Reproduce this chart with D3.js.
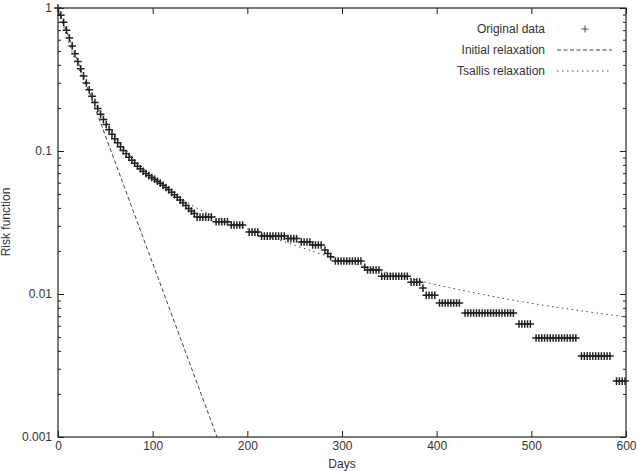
<!DOCTYPE html>
<html>
<head>
<meta charset="utf-8">
<script src="https://cdn.jsdelivr.net/npm/d3@7"></script>
<style>
  body { margin: 0; background: #fff; }
  svg { display: block; font-family: "Liberation Sans", Arial, Helvetica, sans-serif; }
  .axis text { font-size: 12px; fill: #333; }
  .axis .domain { display: none; }
  .axis line { stroke: #222; }
</style>
</head>
<body>
<svg id="chart" width="637" height="471"></svg>
<script>
// smooth early part of the observed risk function (one marker every 3 days)
const curveDays = [0, 3, 6, 9, 12, 15, 18, 21, 24, 27, 30, 33, 36, 39, 42, 45, 48, 51, 54, 57,
  60, 63, 66, 69, 72, 75, 78, 81, 84, 87, 90, 93, 96, 99, 102, 105, 108, 111, 114, 117,
  120, 123, 126, 129, 132, 135, 138, 141, 144];
const curveRisk = [1, 0.891, 0.794, 0.700, 0.617, 0.543, 0.479, 0.422, 0.376, 0.335, 0.299,
  0.268, 0.241, 0.218, 0.198, 0.181, 0.166, 0.153, 0.141, 0.131, 0.122, 0.114, 0.107, 0.101,
  0.0955, 0.0906, 0.0861, 0.0820, 0.0783, 0.0750, 0.0721, 0.0695, 0.0673, 0.0653, 0.0634,
  0.0615, 0.0596, 0.0575, 0.0555, 0.0535, 0.0514, 0.0494, 0.0475, 0.0455, 0.0435, 0.0415,
  0.0396, 0.0380, 0.0366];

// later part: plateaus (value, days with a marker)
const stepRisk = [0.0345, 0.0320, 0.0304, 0.0271, 0.0254, 0.0244, 0.0231, 0.0220,
  0.0203, 0.0192, 0.0182, 0.0170, 0.0154, 0.0147, 0.0133, 0.0121, 0.0110, 0.0098,
  0.00865, 0.00737, 0.00617, 0.00492, 0.00368, 0.00246];
const stepDays = [
  [147, 150, 153, 156, 159, 162],
  [167, 170, 173, 176, 179],
  [183, 186, 189, 192, 195],
  [202, 205, 208, 211],
  [215, 218, 221, 224, 227, 230, 233, 236, 239],
  [243, 246, 249, 252],
  [257, 260, 263, 266],
  [269, 272, 275, 278],
  [282],
  [285],
  [288],
  [293, 296, 299, 302, 305, 308, 311, 314, 317, 320],
  [324],
  [327, 330, 333, 336, 339],
  [342, 345, 348, 351, 354, 357, 360, 363, 366, 369],
  [373, 376, 379, 382],
  [385.5],
  [389, 392, 395, 398],
  [403, 406, 409, 412, 415, 418, 421, 424],
  [430, 433, 436, 439, 442, 445, 448, 451, 454, 457, 460, 463, 466, 469, 472, 475, 478, 481],
  [487, 490, 493, 496, 499],
  [505, 508, 511, 514, 517, 520, 523, 526, 529, 532, 535, 538, 541, 544, 547],
  [553, 556, 559, 562, 565, 568, 571, 574, 577, 580, 583],
  [590, 593, 596, 599]
];

// fitted curves
const initialDays = [0, 168];
const initialRisk = [1, 0.001];
const tsallisDays = [0, 10, 20, 30, 40, 50, 60, 70, 80, 90, 100, 120, 140, 170, 200, 250,
  300, 350, 400, 450, 500, 550, 600];
const tsallisRisk = [1, 0.610, 0.403, 0.285, 0.211, 0.162, 0.129, 0.105, 0.0881, 0.0759,
  0.0661, 0.0519, 0.0422, 0.0339, 0.0285, 0.0219, 0.0172, 0.0140, 0.0116, 0.00989,
  0.00861, 0.00767, 0.00692];

const xTicks = [0, 100, 200, 300, 400, 500, 600];
const yTicks = [0.001, 0.01, 0.1, 1];
const yTickLabels = ["0.001", "0.01", "0.1", "1"];
const yMinor = [2, 3, 4, 5, 6, 7, 8, 9];

const legendLabels = ["Original data", "Initial relaxation", "Tsallis relaxation"];

let points = curveDays.map((d, i) => [d, curveRisk[i]]);
stepDays.forEach((days, i) => {
  days.forEach(d => points.push([d, stepRisk[i]]));
});

const plotLeft = 58, plotRight = 626, plotTop = 8, plotBottom = 437;

let svg = d3.select("#chart");

let x = d3.scaleLinear().domain([0, 600]).range([plotLeft, plotRight]);
let y = d3.scaleLog().domain([0.001, 1]).range([plotBottom, plotTop]);

let minorVals = [];
[0.001, 0.01, 0.1].forEach(dec => yMinor.forEach(m => minorVals.push(dec * m)));

// axes, ticks pointing inward
svg.append("g").attr("class", "axis")
  .attr("transform", "translate(0," + plotBottom + ")")
  .call(d3.axisBottom(x).tickValues(xTicks).tickSize(-6).tickPadding(4).tickFormat(d3.format("d")));
svg.append("g").attr("class", "axis")
  .attr("transform", "translate(0," + plotTop + ")")
  .call(d3.axisTop(x).tickValues(xTicks).tickSize(-6).tickFormat(""));
svg.append("g").attr("class", "axis")
  .attr("transform", "translate(" + plotLeft + ",0)")
  .call(d3.axisLeft(y).tickValues(yTicks).tickSize(-6).tickPadding(6)
    .tickFormat((d, i) => yTickLabels[i]));
svg.append("g").attr("class", "axis")
  .attr("transform", "translate(" + plotLeft + ",0)")
  .call(d3.axisLeft(y).tickValues(minorVals).tickSize(-3).tickFormat(""));
svg.append("g").attr("class", "axis")
  .attr("transform", "translate(" + plotRight + ",0)")
  .call(d3.axisRight(y).tickValues(yTicks).tickSize(-6).tickFormat(""));
svg.append("g").attr("class", "axis")
  .attr("transform", "translate(" + plotRight + ",0)")
  .call(d3.axisRight(y).tickValues(minorVals).tickSize(-3).tickFormat(""));

svg.append("rect")
  .attr("x", plotLeft).attr("y", plotTop)
  .attr("width", plotRight - plotLeft).attr("height", plotBottom - plotTop)
  .attr("fill", "none").attr("stroke", "#222").attr("stroke-width", 1.2);

// axis titles
svg.append("text")
  .attr("x", (plotLeft + plotRight) / 2).attr("y", 468)
  .attr("text-anchor", "middle").attr("font-size", 12).attr("fill", "#333")
  .text("Days");
svg.append("text")
  .attr("transform", "translate(10,222) rotate(-90)")
  .attr("text-anchor", "middle").attr("font-size", 12).attr("fill", "#333")
  .text("Risk function");

let line = d3.line().x(d => x(d[0])).y(d => y(d[1]));

svg.append("path")
  .datum(initialDays.map((d, i) => [d, initialRisk[i]]))
  .attr("d", line)
  .attr("fill", "none").attr("stroke", "#444").attr("stroke-width", 1)
  .attr("stroke-dasharray", "4,2.5");

svg.append("path")
  .datum(tsallisDays.map((d, i) => [d, tsallisRisk[i]]))
  .attr("d", line.curve(d3.curveMonotoneX))
  .attr("fill", "none").attr("stroke", "#444").attr("stroke-width", 1)
  .attr("stroke-dasharray", "1.5,3.5");

const plus = "M-3.8,0H3.8M0,-3.8V3.8";

svg.append("g")
  .selectAll("path")
  .data(points)
  .join("path")
  .attr("transform", d => "translate(" + x(d[0]) + "," + y(d[1]) + ")")
  .attr("d", plus)
  .attr("stroke", "#222").attr("stroke-width", 1.5).attr("fill", "none");

// legend
let legend = svg.append("g").attr("font-size", 12).attr("fill", "#333");
legendLabels.forEach((lab, i) => {
  let ly = 29 + i * 21;
  legend.append("text")
    .attr("x", 545).attr("y", ly + 4)
    .attr("text-anchor", "end").text(lab);
  if (i == 0) {
    legend.append("path")
      .attr("transform", "translate(585," + ly + ")")
      .attr("d", "M-3.5,0H3.5M0,-3.5V3.5").attr("stroke", "#444").attr("fill", "none");
  } else {
    legend.append("line")
      .attr("x1", 557).attr("x2", 612).attr("y1", ly).attr("y2", ly)
      .attr("stroke", "#444")
      .attr("stroke-dasharray", i == 1 ? "4,2.5" : "1.5,3.5");
  }
});
</script>
</body>
</html>
